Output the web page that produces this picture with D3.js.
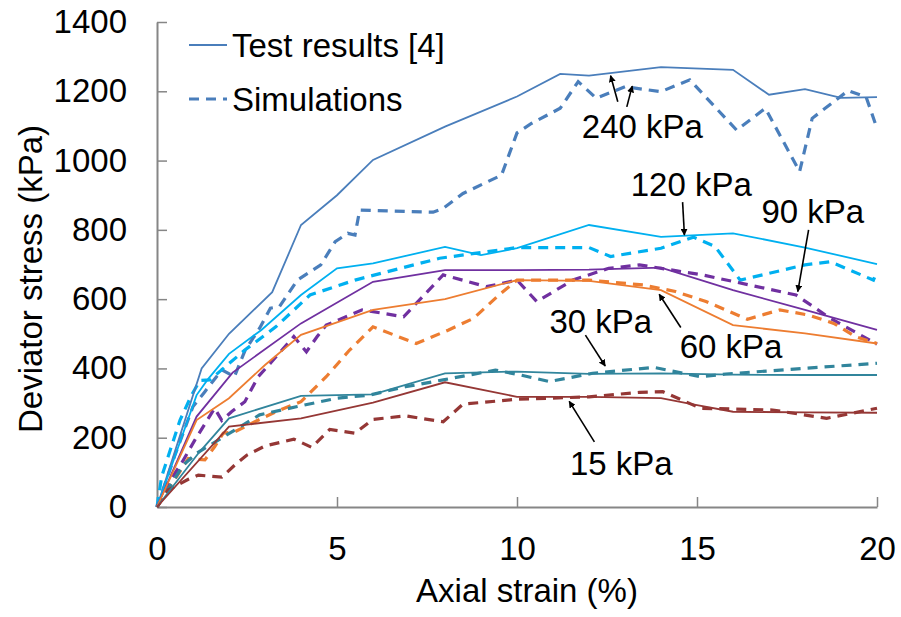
<!DOCTYPE html>
<html>
<head>
<meta charset="utf-8">
<script src="https://cdn.jsdelivr.net/npm/d3@7"></script>
<style>
  body { margin: 0; background: #fff; }
  text { font-family: "Liberation Sans", Arial, sans-serif; fill: #000; }
</style>
</head>
<body>
<svg id="chart" width="901" height="617"></svg>
<script>
// tick labels
const xTicks = [0, 5, 10, 15, 20];
const yTicks = [0, 200, 400, 600, 800, 1000, 1200, 1400];

// test results [4] : [axial strain %, deviator stress kPa]
const test240 = [[0,0],[1.24,400],[2,500],[3.2,620],[4,814],[5,900],[6,1002],[8,1098],[10,1185],[11.2,1250],[12,1245],[14,1270],[16,1262],[17,1190],[18,1206],[19,1181],[20,1183]];
const test120 = [[0,0],[1.1,323],[1.4,367],[2,442],[2.9,511],[4,612],[5,689],[6,703],[8,751],[9,727],[10,747],[12,814],[14,780],[16,790],[18,749],[20,701]];
const test90  = [[0,0],[1.1,261],[2.1,388],[4,530],[6,650],[8,684],[10,684],[12,685],[14,691],[16,626],[18,569],[20,511]];
const test60  = [[0,0],[1.1,251],[2,314],[3,410],[4,497],[6,569],[8,600],[10,655],[12,653],[14,626],[16,525],[18,501],[20,472]];
const test30  = [[0,0],[1.15,155],[2,256],[4,321],[6,325],[8,386],[10,391],[12,384],[14,386],[16,382],[18,381],[20,381]];
const test15  = [[0,0],[2,232],[4,256],[6,301],[8,360],[10,318],[12,318],[14,314],[15,294],[16,275],[18,273],[20,272]];

// simulations
const sim240 = [[0,0],[0.5,150],[1.0,290],[1.33,333],[1.8,396],[2.15,376],[2.45,453],[2.85,516],[3.15,574],[3.4,578],[3.9,655],[4.55,699],[4.95,766],[5.3,790],[5.5,785],[5.63,857],[7.67,851],[7.95,862],[8.5,905],[9.57,958],[10,1080],[10.4,1107],[11.2,1151],[11.7,1228],[12.2,1180],[13,1213],[14,1199],[14.8,1233],[16.1,1088],[16.9,1151],[17.85,968],[18.2,1122],[19.2,1202],[19.7,1183],[20,1093]];
const sim120 = [[0,0],[0.13,88],[0.64,251],[0.96,323],[1.19,365],[1.47,367],[2.44,453],[3.3,520],[4.25,612],[5.5,655],[7.85,718],[10,749],[12,749],[12.6,723],[14,747],[14.9,779],[15.5,752],[16.2,655],[18,699],[18.7,708],[19.9,655],[20,680]];
const sim90  = [[0,0],[0.31,68],[0.68,126],[1.05,193],[1.6,285],[1.8,250],[2.07,275],[2.44,304],[2.81,376],[3.15,415],[3.8,492],[4.15,448],[4.45,492],[4.7,525],[5.7,569],[6.85,549],[7.95,670],[9.15,636],[10,655],[10.55,593],[11.55,655],[12.55,689],[13.4,699],[15.15,670],[17.75,612],[18.7,545],[20,470]];
const sim60  = [[0,0],[0.87,140],[1.33,136],[1.6,174],[1.84,213],[2.16,217],[2.72,246],[3.3,275],[4,304],[4.7,376],[5.35,453],[6,520],[7.2,472],[8.1,511],[8.8,545],[9.5,612],[10,655],[12,655],[13.5,641],[14.4,622],[15.25,593],[16.4,542],[17.3,569],[18.1,554],[18.8,530],[19.4,492],[20,472]];
const sim30  = [[0,0],[0.41,68],[0.73,121],[1.1,155],[1.7,193],[2.16,222],[2.85,266],[3.9,290],[5,314],[5.9,323],[6.9,347],[7.95,367],[9.4,395],[10.1,381],[10.9,362],[12.1,386],[13.8,403],[15.1,376],[15.8,384],[20,415]];
const sim15  = [[0,0],[0.31,49],[0.87,80],[1.15,92],[1.8,86],[2.16,121],[2.5,150],[3,176],[3.8,196],[4.3,172],[4.8,224],[5.5,213],[6,253],[6.9,263],[7.95,246],[8.5,297],[10,311],[12,318],[13.4,331],[14.05,333],[15.1,285],[17.1,280],[18.6,256],[20,285]];

const series = [
  { test: test240, sim: sim240, color: "#4a7ebb" },
  { test: test120, sim: sim120, color: "#00b0f0" },
  { test: test90,  sim: sim90,  color: "#7030a0" },
  { test: test60,  sim: sim60,  color: "#ed7d31" },
  { test: test30,  sim: sim30,  color: "#31859c" },
  { test: test15,  sim: sim15,  color: "#953735" }
];

// annotation labels: text position and arrow [from, to] in data units
const notes = [
  { label: "240 kPa", at: [11.8, 1065], arrows: [[[12.8, 1170], [12.6, 1245]], [[13.05, 1155], [13.2, 1215]]] },
  { label: "120 kPa", at: [13.16, 898], arrows: [[[14.6, 880], [14.65, 785]]] },
  { label: "90 kPa",  at: [16.79, 820], arrows: [[[18.1, 800], [17.8, 622]]] },
  { label: "60 kPa",  at: [14.52, 430], arrows: [[[14.55, 518], [13.95, 614]]] },
  { label: "30 kPa",  at: [10.9, 502],  arrows: [[[11.9, 496], [12.45, 407]]] },
  { label: "15 kPa",  at: [11.47, 92],  arrows: [[[12.15, 188], [11.45, 305]]] }
];

const fontSize = 33;
const svg = d3.select("#chart");
const x = d3.scaleLinear().domain([0, 20]).range([157, 877]);
const y = d3.scaleLinear().domain([0, 1400]).range([507, 22]);

svg.append("defs").append("marker")
  .attr("id", "arrow")
  .attr("viewBox", "0 0 10 10")
  .attr("refX", 9).attr("refY", 5)
  .attr("markerWidth", 7).attr("markerHeight", 7)
  .attr("markerUnits", "userSpaceOnUse")
  .attr("orient", "auto")
  .append("path").attr("d", "M0,0 L10,5 L0,10 z").attr("fill", "#000");

// axes
const axisColor = "#868686";
const xAxis = svg.append("g").attr("transform", `translate(0,${y(0)})`)
  .call(d3.axisBottom(x).tickValues(xTicks).tickFormat(d3.format("d")).tickSize(-10).tickSizeOuter(0));
const yAxis = svg.append("g").attr("transform", `translate(${x(0)},0)`)
  .call(d3.axisLeft(y).tickValues(yTicks).tickFormat(d3.format("d")).tickSize(-10).tickPadding(30).tickSizeOuter(0));
[xAxis, yAxis].forEach(g => {
  g.select(".domain").attr("stroke", axisColor).attr("stroke-width", 2);
  g.selectAll(".tick line").attr("stroke", axisColor).attr("stroke-width", 1.5);
  g.selectAll(".tick text").attr("font-size", fontSize).attr("font-family", "Liberation Sans, Arial, sans-serif").attr("fill", "#000");
});
xAxis.selectAll(".tick text").attr("dy", "0.71em").attr("y", 30);

const line = d3.line().x(d => x(d[0])).y(d => y(d[1]));

const plot = svg.append("g");
series.forEach(s => {
  plot.append("path").datum(s.sim)
    .attr("d", line).attr("fill", "none")
    .attr("stroke", s.color).attr("stroke-width", 3.2)
    .attr("stroke-dasharray", "10,7");
});
series.forEach(s => {
  plot.append("path").datum(s.test)
    .attr("d", line).attr("fill", "none")
    .attr("stroke", s.color).attr("stroke-width", 1.8);
});

// annotations
notes.forEach(n => {
  svg.append("text").attr("x", x(n.at[0])).attr("y", y(n.at[1]))
    .attr("font-size", fontSize).text(n.label);
  n.arrows.forEach(a => {
    svg.append("line")
      .attr("x1", x(a[0][0])).attr("y1", y(a[0][1]))
      .attr("x2", x(a[1][0])).attr("y2", y(a[1][1]))
      .attr("stroke", "#000").attr("stroke-width", 1.6)
      .attr("marker-end", "url(#arrow)");
  });
});

// legend
const legend = svg.append("g");
legend.append("line").attr("x1", 189).attr("x2", 227).attr("y1", 45).attr("y2", 45)
  .attr("stroke", "#4a7ebb").attr("stroke-width", 1.8);
legend.append("text").attr("x", 232).attr("y", 57).attr("font-size", fontSize).text("Test results [4]");
legend.append("line").attr("x1", 189).attr("x2", 227).attr("y1", 99).attr("y2", 99)
  .attr("stroke", "#4a7ebb").attr("stroke-width", 3.2).attr("stroke-dasharray", "10,7");
legend.append("text").attr("x", 232).attr("y", 111).attr("font-size", fontSize).text("Simulations");

// axis titles
svg.append("text").attr("x", 527).attr("y", 602)
  .attr("text-anchor", "middle").attr("font-size", fontSize).text("Axial strain (%)");
svg.append("text")
  .attr("transform", `translate(42,279) rotate(-90)`)
  .attr("text-anchor", "middle").attr("font-size", fontSize).text("Deviator stress (kPa)");
</script>
</body>
</html>
